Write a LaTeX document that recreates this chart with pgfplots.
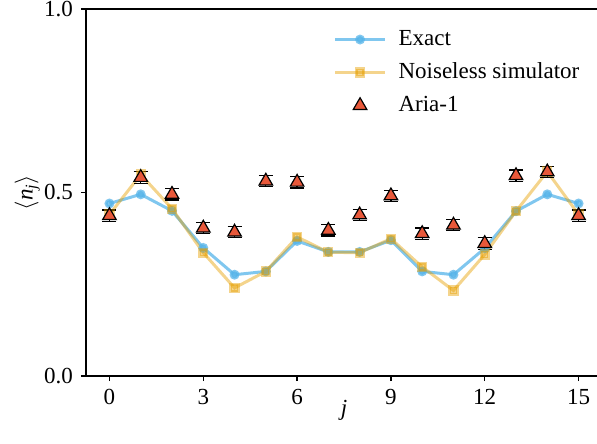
\documentclass[border=0pt]{standalone}
\usepackage{fontspec}
\setmainfont{Liberation Serif}
\usepackage{pgfplots}
\usepackage{pgfplotstable}
\pgfplotsset{compat=1.18}
\definecolor{cblue}{RGB}{86,180,233}
\definecolor{corange}{RGB}{230,159,0}
\definecolor{cred}{RGB}{232,88,58}
\pgfplotstableread{
x exact noiseless aria err
0  0.470 0.440 0.437 0.0155
1  0.495 0.549 0.541 0.0155
2  0.450 0.456 0.495 0.0155
3  0.349 0.336 0.403 0.0155
4  0.276 0.240 0.392 0.0155
5  0.285 0.285 0.531 0.0155
6  0.368 0.379 0.528 0.0155
7  0.338 0.337 0.397 0.0155
8  0.338 0.336 0.439 0.0155
9  0.370 0.374 0.491 0.0155
10 0.285 0.297 0.388 0.0155
11 0.276 0.233 0.411 0.0155
12 0.348 0.331 0.361 0.0155
13 0.449 0.449 0.546 0.0155
14 0.495 0.557 0.556 0.0155
15 0.470 0.440 0.437 0.0155
}\datatable
\begin{document}
\fontsize{11.5}{13.5}\selectfont
\begin{tikzpicture}
\begin{axis}[
  scale only axis, width=258pt, height=183.5pt,
  xmin=-0.75, xmax=15.75, ymin=0, ymax=1,
  xtick={0,3,6,9,12,15}, ytick={0,0.5,1},
  yticklabel style={/pgf/number format/.cd, fixed, fixed zerofill, precision=1},
  /pgf/number format/assume math mode=true,
  xtick pos=left, ytick pos=left,
  tick align=outside, major tick length=2.5pt,
  tick style={black, line width=0.6pt},
  axis line style={line width=0.8pt},
  font=\fontsize{11.5}{13.5}\selectfont,
  tick label style={font=\fontsize{11.5}{13.5}\selectfont},
  xlabel={\textit{j}},
  xlabel style={at={(axis description cs:0.5,0)}, anchor=center, yshift=-17pt},
  ylabel={$\langle$\textit{n}\textsubscript{\textit{j}}$\rangle$},
  ylabel style={at={(axis description cs:-0.114,0.5)}, anchor=center, rotate=0},
  legend style={draw=none, fill=none, inner sep=0pt, at={(axis description cs:0.479,0.954)}, anchor=north west, row sep=3pt, font=\fontsize{11.5}{13.5}\selectfont, /tikz/every odd column/.append style={column sep=4pt}},
  legend cell align=left,
  legend image code/.code={\draw[mark repeat=2,mark phase=2,#1] plot coordinates {(0pt,0pt) (12.5pt,0pt) (25pt,0pt)};},
]
\addplot[color=cblue, opacity=0.75, line width=1.5pt, mark=*, mark size=1.7pt, mark options={solid, draw=none, fill=cblue}] table[x=x, y=exact] {\datatable};
\addlegendentry{Exact}
\addplot[color=corange, opacity=0.45, line width=1.5pt, mark=square*, mark size=1.8pt, mark options={solid, draw=none, fill=corange}] table[x=x, y=noiseless] {\datatable};
\addlegendentry{Noiseless simulator}
\addplot[only marks, mark=triangle*, mark size=3.9pt, mark options={fill=cred, draw=black, line width=0.6pt},
  error bars/.cd, y dir=both, y explicit,
  error bar style={black, line width=0.6pt},
  error mark options={rotate=90, mark size=3.5pt, black, line width=0.6pt},
  ] table[x=x, y=aria, y error=err] {\datatable};
\addlegendentry{Aria-1}
\end{axis}
\pgfresetboundingbox
\path[use as bounding box] ([shift={(-43pt,-33.5pt)}]current axis.south west) rectangle ([shift={(255.5pt,188pt)}]current axis.south west);
\end{tikzpicture}
\end{document}
